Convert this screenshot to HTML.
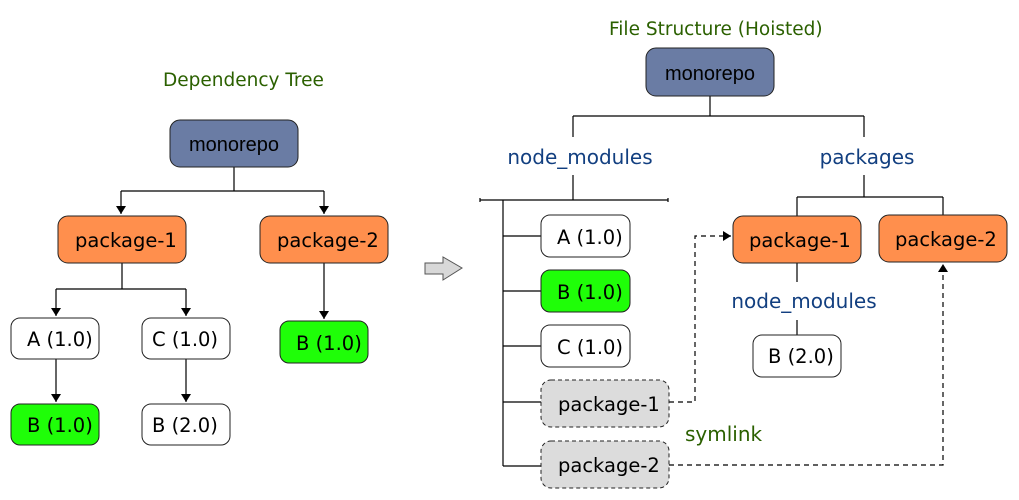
<!DOCTYPE html>
<html><head><meta charset="utf-8"><style>body{margin:0;background:#fff}svg{display:block}text{font-family:"DejaVu Sans","Liberation Sans",sans-serif}</style></head>
<body>
<svg width="1019" height="500" viewBox="0 0 1019 500" xmlns="http://www.w3.org/2000/svg">
<defs><marker id="a" markerWidth="8" markerHeight="10" refX="8" refY="5" orient="auto" markerUnits="userSpaceOnUse"><path d="M0,0L8,5L0,10z" fill="#000"/></marker></defs>
<g stroke="#000" stroke-width="1.2" fill="none">
<path d="M234,167V191M121,191H324"/>
<path d="M121,191V214" marker-end="url(#a)"/><path d="M324,191V214" marker-end="url(#a)"/>
<path d="M122,263V289M56,289H186"/>
<path d="M56,289V316" marker-end="url(#a)"/><path d="M186,289V316" marker-end="url(#a)"/>
<path d="M324,263V319" marker-end="url(#a)"/>
<path d="M56,359V402" marker-end="url(#a)"/><path d="M186,359V402" marker-end="url(#a)"/>
<path d="M710,96V116M573,116H864M573,116V137M864,116V137"/>
<path d="M573,175V200M480,200H668M480,198V202M668,198V202M503,200V466"/>
<path d="M503,236H541M503,291H541M503,346H541M503,402H541M503,466H541"/>
<path d="M864,175V197M797,197H943M797,197V216M943,197V215"/>
<path d="M797,263V282M797,320V335"/>
<path d="M669,402H695V236H731" stroke-dasharray="5,4" marker-end="url(#a)"/>
<path d="M669,465H943V264" stroke-dasharray="5,4" marker-end="url(#a)"/>
</g>
<path d="M425,263H443V257L462,268L443,280V274H425Z" fill="#d8d8d8" stroke="#555"/>
<g stroke="#222" stroke-width="1">
<rect x="170" y="120" width="128" height="47" rx="10" fill="#6a7ca4"/>
<rect x="58" y="216" width="128" height="47" rx="10" fill="#ff8f4d"/>
<rect x="260" y="216" width="128" height="47" rx="10" fill="#ff8f4d"/>
<rect x="11" y="318" width="88" height="41" rx="9" fill="#fff"/>
<rect x="142" y="318" width="88" height="41" rx="9" fill="#fff"/>
<rect x="280" y="321" width="88" height="42" rx="9" fill="#1ffe08"/>
<rect x="11" y="404" width="88" height="41" rx="9" fill="#1ffe08"/>
<rect x="142" y="404" width="88" height="41" rx="9" fill="#fff"/>
<rect x="646" y="48" width="128" height="48" rx="10" fill="#6a7ca4"/>
<rect x="541" y="215" width="89" height="42" rx="9" fill="#fff"/>
<rect x="541" y="270" width="89" height="42" rx="9" fill="#1ffe08"/>
<rect x="541" y="325" width="89" height="42" rx="9" fill="#fff"/>
<rect x="541" y="380" width="128" height="47" rx="10" fill="#dcdcdc" stroke-dasharray="4,3"/>
<rect x="541" y="441" width="128" height="47" rx="10" fill="#dcdcdc" stroke-dasharray="4,3"/>
<rect x="733" y="216" width="128" height="47" rx="10" fill="#ff8f4d"/>
<rect x="879" y="215" width="128" height="47" rx="10" fill="#ff8f4d"/>
<rect x="753" y="335" width="88" height="42" rx="9" fill="#fff"/>
</g>
<g font-size="20" fill="#000">
<text x="234" y="151" text-anchor="middle" style="font-family:'Liberation Sans',sans-serif">monorepo</text>
<text x="710" y="80" text-anchor="middle" style="font-family:'Liberation Sans',sans-serif">monorepo</text>
</g>
<g font-size="19.5" fill="#000">
<text x="75" y="247">package-1</text>
<text x="277" y="247">package-2</text>
<text x="558" y="411">package-1</text>
<text x="558" y="472">package-2</text>
<text x="749" y="247">package-1</text>
<text x="895" y="246">package-2</text>
<text x="27" y="346">A (1.0)</text>
<text x="152" y="346">C (1.0)</text>
<text x="296" y="350">B (1.0)</text>
<text x="27" y="432">B (1.0)</text>
<text x="152" y="432">B (2.0)</text>
<text x="557" y="244">A (1.0)</text>
<text x="557" y="299">B (1.0)</text>
<text x="557" y="354">C (1.0)</text>
<text x="768" y="363">B (2.0)</text>
</g>
<g font-size="18.5">
<text x="163" y="86" fill="#2b6000">Dependency Tree</text>
<text x="609" y="35" fill="#2b6000">File Structure (Hoisted)</text>
</g>
<g font-size="20">
<text x="685" y="441" fill="#2b6000">symlink</text>
<text x="580" y="164" text-anchor="middle" fill="#123f80">node_modules</text>
<text x="867" y="164" text-anchor="middle" fill="#123f80">packages</text>
<text x="804" y="308" text-anchor="middle" fill="#123f80">node_modules</text>
</g>
</svg>
</body></html>
